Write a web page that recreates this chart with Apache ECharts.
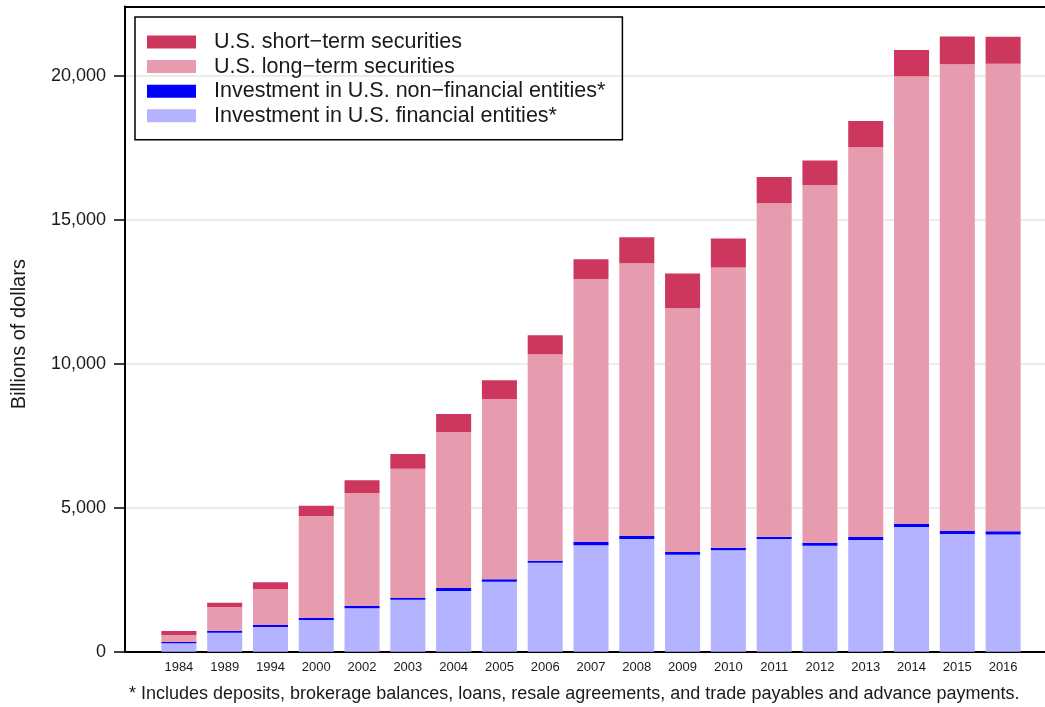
<!DOCTYPE html>
<html>
<head>
<meta charset="utf-8">
<script src="https://cdn.jsdelivr.net/npm/echarts@6/dist/echarts.min.js"></script>
<style>
html,body{margin:0;padding:0;background:#fff;}
#chart{width:1045px;height:707px;}
</style>
</head>
<body>
<div id="chart"></div>
<script>
const years = ['1984','1989','1994','2000','2002','2003','2004','2005','2006','2007','2008','2009','2010','2011','2012','2013','2014','2015','2016'];
const financial = [290,660,860,1100,1510,1800,2110,2430,3090,3700,3910,3370,3520,3910,3680,3880,4330,4090,4070];
const nonFinancial = [45,60,70,70,80,65,100,85,70,110,120,90,90,85,105,105,105,100,110];
const longTerm = [245,830,1240,3540,3920,4490,5415,6260,7165,9130,9460,8470,9735,11575,12420,13530,15545,16205,16235];
const shortTerm = [140,150,245,355,440,510,625,650,660,685,905,1205,1005,915,855,915,915,970,935];
const yTicks = [0,5000,10000,15000,20000];
const names = {
  short: 'U.S. short\u2212term securities',
  long: 'U.S. long\u2212term securities',
  nonfin: 'Investment in U.S. non\u2212financial entities*',
  fin: 'Investment in U.S. financial entities*'
};
const footnote = '* Includes deposits, brokerage balances, loans, resale agreements, and trade payables and advance payments.';

const FONT = '"Liberation Sans", Arial, Helvetica, sans-serif';
const chart = echarts.init(document.getElementById('chart'));
const yMax = 22400;
const gTop = 6.6, gBottom = 55.3;

function bar(name, data, color) {
  return {
    name, type: 'bar', stack: 'total', data,
    xAxisIndex: 0, yAxisIndex: 0,
    barCategoryGap: '23.5%',
    itemStyle: { color },
    emphasis: { disabled: true }
  };
}

chart.setOption({
  animation: false,
  backgroundColor: '#ffffff',
  textStyle: { fontFamily: FONT },
  grid: [
    { left: 156, right: 19, top: gTop, bottom: gBottom },
    { left: 125, right: -5, top: gTop, bottom: gBottom }
  ],
  xAxis: [
    {
      type: 'category', gridIndex: 0, data: years,
      axisLine: { show: false }, axisTick: { show: false },
      axisLabel: { color: '#1a1a1a', fontSize: 13, margin: 9, fontFamily: FONT, interval: 0 }
    },
    {
      type: 'value', gridIndex: 1, position: 'bottom', min: 0, max: 1,
      axisLine: { show: true, lineStyle: { color: '#000', width: 2 } },
      axisTick: { show: false }, axisLabel: { show: false }, splitLine: { show: false }
    },
    {
      type: 'value', gridIndex: 1, position: 'top', min: 0, max: 1,
      axisLine: { show: true, lineStyle: { color: '#000', width: 2 } },
      axisTick: { show: false }, axisLabel: { show: false }, splitLine: { show: false }
    }
  ],
  yAxis: [
    { type: 'value', gridIndex: 0, min: 0, max: yMax, show: false },
    {
      type: 'value', gridIndex: 1, min: 0, max: yMax, interval: 5000,
      name: 'Billions of dollars', nameLocation: 'middle', nameGap: 96,
      nameTextStyle: { color: '#1a1a1a', fontSize: 20, fontFamily: FONT, padding: [0, 10, 0, 0] },
      axisLine: { show: true, lineStyle: { color: '#000', width: 2 } },
      axisTick: { show: true, length: 11, lineStyle: { color: '#000', width: 1.5 }, customValues: yTicks },
      axisLabel: {
        color: '#1a1a1a', fontSize: 18, margin: 19, fontFamily: FONT, customValues: yTicks,
        formatter: v => v.toLocaleString('en-US')
      },
      splitLine: { show: true, lineStyle: { color: '#e6e6e6', width: 1.5 } }
    }
  ],
  legend: {
    orient: 'vertical', left: 135, top: 17,
    data: [names.short, names.long, names.nonfin, names.fin],
    icon: 'rect', itemWidth: 49, itemHeight: 13, itemGap: 2.6,
    padding: [14, 17, 13, 12],
    borderColor: '#000', borderWidth: 1.5,
    selectedMode: false,
    textStyle: { color: '#1a1a1a', fontSize: 21.5, lineHeight: 21, fontFamily: FONT, padding: [0, 0, 0, 13] }
  },
  title: {
    text: footnote, left: 129, top: 685,
    padding: 0,
    textStyle: { color: '#1a1a1a', fontSize: 18, fontWeight: 'normal', fontFamily: FONT }
  },
  series: [
    bar(names.fin, financial, '#b3b3ff'),
    bar(names.nonfin, nonFinancial, '#0000ff'),
    bar(names.long, longTerm, '#e69bae'),
    bar(names.short, shortTerm, '#cd375e')
  ]
});
</script>
</body>
</html>
